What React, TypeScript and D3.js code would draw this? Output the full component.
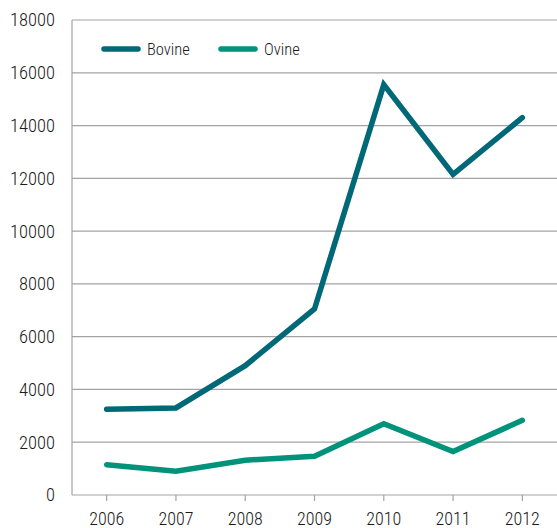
import React from "react";
import * as d3 from "d3";

const years = ["2006", "2007", "2008", "2009", "2010", "2011", "2012"];
const bovine = [3250, 3300, 4900, 7050, 15550, 12150, 14300];
const ovine = [1150, 900, 1320, 1470, 2700, 1650, 2830];
const yTicks = [0, 2000, 4000, 6000, 8000, 10000, 12000, 14000, 16000, 18000];
const seriesNames = ["Bovine", "Ovine"];
const colors = ["#006877", "#00937b"];

const W = 557;
const H = 528;
const left = 72;
const right = 557;
const top = 20;
const bottom = 495;
const FONT = "'Liberation Sans Narrow', 'Arial Narrow', 'Roboto Condensed', 'Liberation Sans', Arial, sans-serif";

export default function App() {
  const x = d3.scaleBand<string>().domain(years).range([left, right]).paddingInner(0).paddingOuter(0);
  const y = d3.scaleLinear().domain([0, 18000]).range([bottom, top]);
  const cx = (yr: string) => (x(yr) as number) + x.bandwidth() / 2;
  const line = d3
    .line<number>()
    .x((_, i) => cx(years[i]))
    .y((d) => y(d));
  const series = [bovine, ovine];
  const legendX = [104, 221];

  return (
    <svg width={W} height={H} style={{ position: "absolute", left: 0, top: 0 }} fontFamily={FONT} fontWeight={300}>
      <rect width={W} height={H} fill="#fff" />
      {yTicks.map((t) => (
        <g key={t}>
          <line x1={left} x2={right} y1={y(t)} y2={y(t)} stroke="#a3a3a3" strokeWidth={1.2} />
          <text x={55} y={y(t)} dy="0.35em" textAnchor="end" fontSize={18.5} fill="#1a1a1a">
            {t}
          </text>
        </g>
      ))}
      <line x1={left} x2={left} y1={top} y2={bottom} stroke="#a3a3a3" strokeWidth={1.2} />
      {years.map((yr) => (
        <g key={yr}>
          <line x1={cx(yr)} x2={cx(yr)} y1={bottom} y2={bottom + 6} stroke="#a3a3a3" strokeWidth={1.2} />
          <text x={cx(yr)} y={525} textAnchor="middle" fontSize={18} fill="#1a1a1a">
            {yr}
          </text>
        </g>
      ))}
      {series.map((s, i) => (
        <path
          key={i}
          d={line(s) as string}
          fill="none"
          stroke={colors[i]}
          strokeWidth={5.5}
          strokeLinecap="round"
          strokeLinejoin="miter"
        />
      ))}
      {seriesNames.map((n, i) => (
        <g key={n}>
          <line
            x1={legendX[i]}
            x2={legendX[i] + 34}
            y1={49}
            y2={49}
            stroke={colors[i]}
            strokeWidth={5.5}
            strokeLinecap="round"
          />
          <text x={legendX[i] + 43} y={55} fontSize={16.5} fill="#1a1a1a">
            {n}
          </text>
        </g>
      ))}
    </svg>
  );
}
